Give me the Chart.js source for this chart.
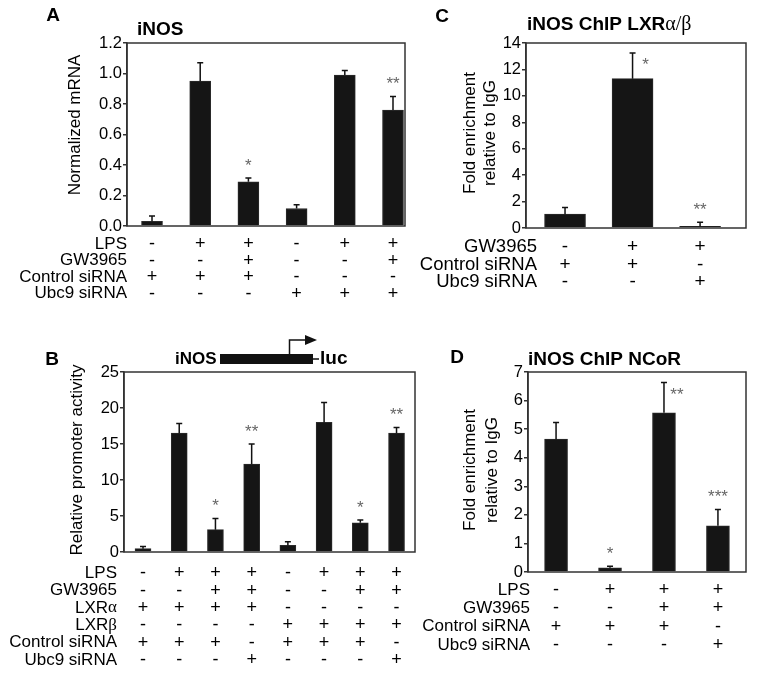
<!DOCTYPE html>
<html>
<head>
<meta charset="utf-8">
<script src="https://cdn.jsdelivr.net/npm/chart.js@4.4.1/dist/chart.umd.min.js"></script>
<style>
  body { margin: 0; background: #fff; }
  #wrap { position: relative; width: 758px; height: 676px; }
  canvas { position: absolute; left: 0; top: 0; }
</style>
</head>
<body>
<div id="wrap">
  <canvas id="chartA" width="758" height="676"></canvas>
  <canvas id="chartB" width="758" height="676"></canvas>
  <canvas id="chartC" width="758" height="676"></canvas>
  <canvas id="chartD" width="758" height="676"></canvas>
</div>
<script>
// Panel A - iNOS mRNA
const aValues = [0.03, 0.95, 0.29, 0.115, 0.99, 0.76];
const aErrors = [0.035, 0.12, 0.025, 0.025, 0.03, 0.09];
const aStars = ['', '', '*', '', '', '**'];
const aRowLabels = ['LPS', 'GW3965', 'Control siRNA', 'Ubc9 siRNA'];
const aRows = [
  ['-', '+', '+', '-', '+', '+'],
  ['-', '-', '+', '-', '-', '+'],
  ['+', '+', '+', '-', '-', '-'],
  ['-', '-', '-', '+', '+', '+']
];
const aTicks = [0, 0.2, 0.4, 0.6, 0.8, 1.0, 1.2];

// Panel B - iNOS promoter luciferase
const bValues = [0.46, 16.5, 3.1, 12.2, 0.92, 18.0, 4.06, 16.5];
const bErrors = [0.32, 1.35, 1.56, 2.8, 0.51, 2.76, 0.37, 0.8];
const bStars = ['', '', '*', '**', '', '', '*', '**'];
const bRowLabels = ['LPS', 'GW3965', 'LXR\u03b1', 'LXR\u03b2', 'Control siRNA', 'Ubc9 siRNA'];
const bRows = [
  ['-', '+', '+', '+', '-', '+', '+', '+'],
  ['-', '-', '+', '+', '-', '-', '+', '+'],
  ['+', '+', '+', '+', '-', '-', '-', '-'],
  ['-', '-', '-', '-', '+', '+', '+', '+'],
  ['+', '+', '+', '-', '+', '+', '+', '-'],
  ['-', '-', '-', '+', '-', '-', '-', '+']
];
const bTicks = [0, 5, 10, 15, 20, 25];

// Panel C - ChIP LXR alpha/beta
const cValues = [1.05, 11.3, 0.13];
const cErrors = [0.5, 1.95, 0.3];
const cStars = ['', '*', '**'];
const cRowLabels = ['GW3965', 'Control siRNA', 'Ubc9 siRNA'];
const cRows = [
  ['-', '+', '+'],
  ['+', '+', '-'],
  ['-', '-', '+']
];
const cTicks = [0, 2, 4, 6, 8, 10, 12, 14];

// Panel D - ChIP NCoR
const dValues = [4.65, 0.15, 5.57, 1.62];
const dErrors = [0.58, 0.05, 1.06, 0.57];
const dStars = ['', '*', '**', '***'];
const dRowLabels = ['LPS', 'GW3965', 'Control siRNA', 'Ubc9 siRNA'];
const dRows = [
  ['-', '+', '+', '+'],
  ['-', '-', '+', '+'],
  ['+', '+', '+', '-'],
  ['-', '-', '-', '+']
];
const dTicks = [0, 1, 2, 3, 4, 5, 6, 7];

const SANS = "'Liberation Sans', Arial, sans-serif";
const SERIF = "'Liberation Serif', 'Times New Roman', serif";

function drawRotated(ctx, text, x, y, font) {
  ctx.save();
  ctx.translate(x, y);
  ctx.rotate(-Math.PI / 2);
  ctx.font = font;
  ctx.textAlign = 'center';
  ctx.textBaseline = 'middle';
  ctx.fillText(text, 0, 0);
  ctx.restore();
}

function panelPlugin(p) {
  return {
    id: 'panel' + p.letter,
    afterDatasetsDraw(chart) {
      const ctx = chart.ctx;
      const area = chart.chartArea;
      const ys = chart.scales.y;
      const meta = chart.getDatasetMeta(0);
      ctx.save();
      // frame
      ctx.strokeStyle = '#333';
      ctx.lineWidth = 1.5;
      ctx.strokeRect(area.left, area.top, area.right - area.left, area.bottom - area.top);

      meta.data.forEach((bar, i) => {
        const x = bar.x;
        const top = ys.getPixelForValue(p.values[i] + p.errors[i]);
        ctx.strokeStyle = '#111';
        ctx.lineWidth = 1.5;
        ctx.beginPath();
        ctx.moveTo(x, bar.y);
        ctx.lineTo(x, top);
        ctx.moveTo(x - 3, top);
        ctx.lineTo(x + 3, top);
        ctx.stroke();

        const s = p.stars[i];
        if (s) {
          ctx.fillStyle = '#666';
          ctx.font = '17px ' + SANS;
          ctx.textAlign = 'center';
          ctx.textBaseline = 'alphabetic';
          if (p.starRight && p.starRight[i]) {
            ctx.fillText(s, x + 13, top + 17);
          } else {
            ctx.fillText(s, x, top - 7);
          }
        }

        ctx.fillStyle = '#000';
        ctx.textBaseline = 'middle';
        ctx.textAlign = 'center';
        p.rows.forEach((row, r) => {
          ctx.font = p.symFont + 'px ' + SANS;
          ctx.fillText(row[i], x, p.rowY + r * p.rowGap);
        });
      });

      // row labels
      ctx.fillStyle = '#000';
      ctx.textAlign = 'right';
      ctx.textBaseline = 'middle';
      p.rowLabels.forEach((lab, r) => {
        const y = p.rowY + r * p.rowGap;
        const m = lab.match(/^(LXR)([\u03b1\u03b2])$/);
        if (m) {
          ctx.font = p.labelFont + 'px ' + SERIF;
          const gw = ctx.measureText(m[2]).width;
          ctx.fillText(m[2], p.labelRight, y);
          ctx.font = p.labelFont + 'px ' + SANS;
          ctx.fillText(m[1], p.labelRight - gw, y);
        } else {
          ctx.font = p.labelFont + 'px ' + SANS;
          ctx.fillText(lab, p.labelRight, y);
        }
      });

      // y axis title
      ctx.fillStyle = '#000';
      p.yTitle.forEach((t, k) => drawRotated(ctx, t, p.yTitleX[k], p.yTitleY, '17px ' + SANS));

      // panel letter
      ctx.font = 'bold 19px ' + SANS;
      ctx.textAlign = 'center';
      ctx.textBaseline = 'middle';
      ctx.fillText(p.letter, p.letterX, p.letterY);

      // title
      ctx.textAlign = 'left';
      let tx = p.titleX;
      p.title.forEach(part => {
        ctx.font = part.font;
        ctx.fillText(part.text, tx, p.titleY);
        tx += ctx.measureText(part.text).width;
      });
      if (p.extraTitle) p.extraTitle(ctx);
      ctx.restore();
    }
  };
}

function makePanel(id, p) {
  const ctx = document.getElementById(id).getContext('2d');
  return new Chart(ctx, {
    type: 'bar',
    data: {
      datasets: [{
        data: p.values.map((v, i) => ({ x: i + 1, y: v })),
        backgroundColor: '#151515',
        borderColor: '#2b2b2b',
        borderWidth: 1,
        barThickness: p.barWidth
      }]
    },
    options: {
      responsive: false,
      animation: false,
      layout: { padding: p.padding },
      plugins: { legend: { display: false }, tooltip: { enabled: false } },
      scales: {
        x: { type: 'linear', display: false, offset: false, min: p.xMin, max: p.xMax },
        y: {
          min: 0,
          max: p.ticks[p.ticks.length - 1],
          afterBuildTicks: s => { s.ticks = p.ticks.map(v => ({ value: v })); },
          afterFit: s => { s.width = 45; },
          ticks: {
            color: '#000',
            font: { family: SANS, size: 16.5 },
            padding: 1,
            callback: v => p.tickFmt(v)
          },
          grid: { drawOnChartArea: false, tickLength: 4, color: '#333', lineWidth: 1.5 },
          border: { color: '#333', width: 1.5 }
        }
      }
    },
    plugins: [panelPlugin(p)]
  });
}

makePanel('chartA', {
  letter: 'A', letterX: 53, letterY: 16,
  values: aValues, errors: aErrors, stars: aStars, rows: aRows, rowLabels: aRowLabels, ticks: aTicks,
  tickFmt: v => v.toFixed(1),
  padding: { left: 82, right: 353, top: 43, bottom: 450 },
  xMin: 0.481, xMax: 6.249, barWidth: 21,
  rowY: 244, rowGap: 16.6, labelRight: 127, labelFont: 17, symFont: 18,
  yTitle: ['Normalized mRNA'], yTitleX: [75], yTitleY: 125,
  title: [{ text: 'iNOS', font: 'bold 19px ' + SANS }], titleX: 137, titleY: 30
});

makePanel('chartB', {
  letter: 'B', letterX: 52, letterY: 360,
  values: bValues, errors: bErrors, stars: bStars, rows: bRows, rowLabels: bRowLabels, ticks: bTicks,
  tickFmt: v => String(v),
  padding: { left: 79, right: 343, top: 372, bottom: 124 },
  xMin: 0.475, xMax: 8.51, barWidth: 16,
  rowY: 573.3, rowGap: 17.35, labelRight: 117, labelFont: 17, symFont: 18,
  yTitle: ['Relative promoter activity'], yTitleX: [77], yTitleY: 460,
  title: [{ text: 'iNOS', font: 'bold 17px ' + SANS }], titleX: 175, titleY: 359,
  extraTitle: ctx => {
    // promoter-reporter diagram
    ctx.fillStyle = '#111';
    ctx.fillRect(220, 354, 93, 10);
    ctx.strokeStyle = '#111';
    ctx.lineWidth = 1.5;
    ctx.beginPath();
    ctx.moveTo(313, 359); ctx.lineTo(319, 359);
    ctx.moveTo(289.5, 354); ctx.lineTo(289.5, 340); ctx.lineTo(306, 340);
    ctx.stroke();
    ctx.beginPath();
    ctx.moveTo(305, 335); ctx.lineTo(317, 340); ctx.lineTo(305, 345); ctx.closePath();
    ctx.fill();
    ctx.fillStyle = '#000';
    ctx.font = 'bold 19px ' + SANS;
    ctx.fillText('luc', 320, 359);
  }
});

makePanel('chartC', {
  letter: 'C', letterX: 442, letterY: 17,
  values: cValues, errors: cErrors, stars: cStars, starRight: [false, true, false],
  rows: cRows, rowLabels: cRowLabels, ticks: cTicks,
  tickFmt: v => String(v),
  padding: { left: 481, right: 12, top: 43, bottom: 448 },
  xMin: 0.422, xMax: 3.68, barWidth: 41,
  rowY: 247, rowGap: 17.5, labelRight: 537, labelFont: 18.5, symFont: 19,
  yTitle: ['Fold enrichment', 'relative to IgG'], yTitleX: [470, 490], yTitleY: 133,
  title: [
    { text: 'iNOS ChIP LXR', font: 'bold 19px ' + SANS },
    { text: '\u03b1/\u03b2', font: '20px ' + SERIF }
  ],
  titleX: 527, titleY: 25
});

makePanel('chartD', {
  letter: 'D', letterX: 457, letterY: 358,
  values: dValues, errors: dErrors, stars: dStars, starRight: [false, false, true, false],
  rows: dRows, rowLabels: dRowLabels, ticks: dTicks,
  tickFmt: v => String(v),
  padding: { left: 483, right: 12, top: 372, bottom: 104 },
  xMin: 0.48, xMax: 4.52, barWidth: 23,
  rowY: 590, rowGap: 18.3, labelRight: 530, labelFont: 17, symFont: 18,
  yTitle: ['Fold enrichment', 'relative to IgG'], yTitleX: [470, 492], yTitleY: 470,
  title: [{ text: 'iNOS ChIP NCoR', font: 'bold 19px ' + SANS }], titleX: 528, titleY: 360
});
</script>
</body>
</html>
